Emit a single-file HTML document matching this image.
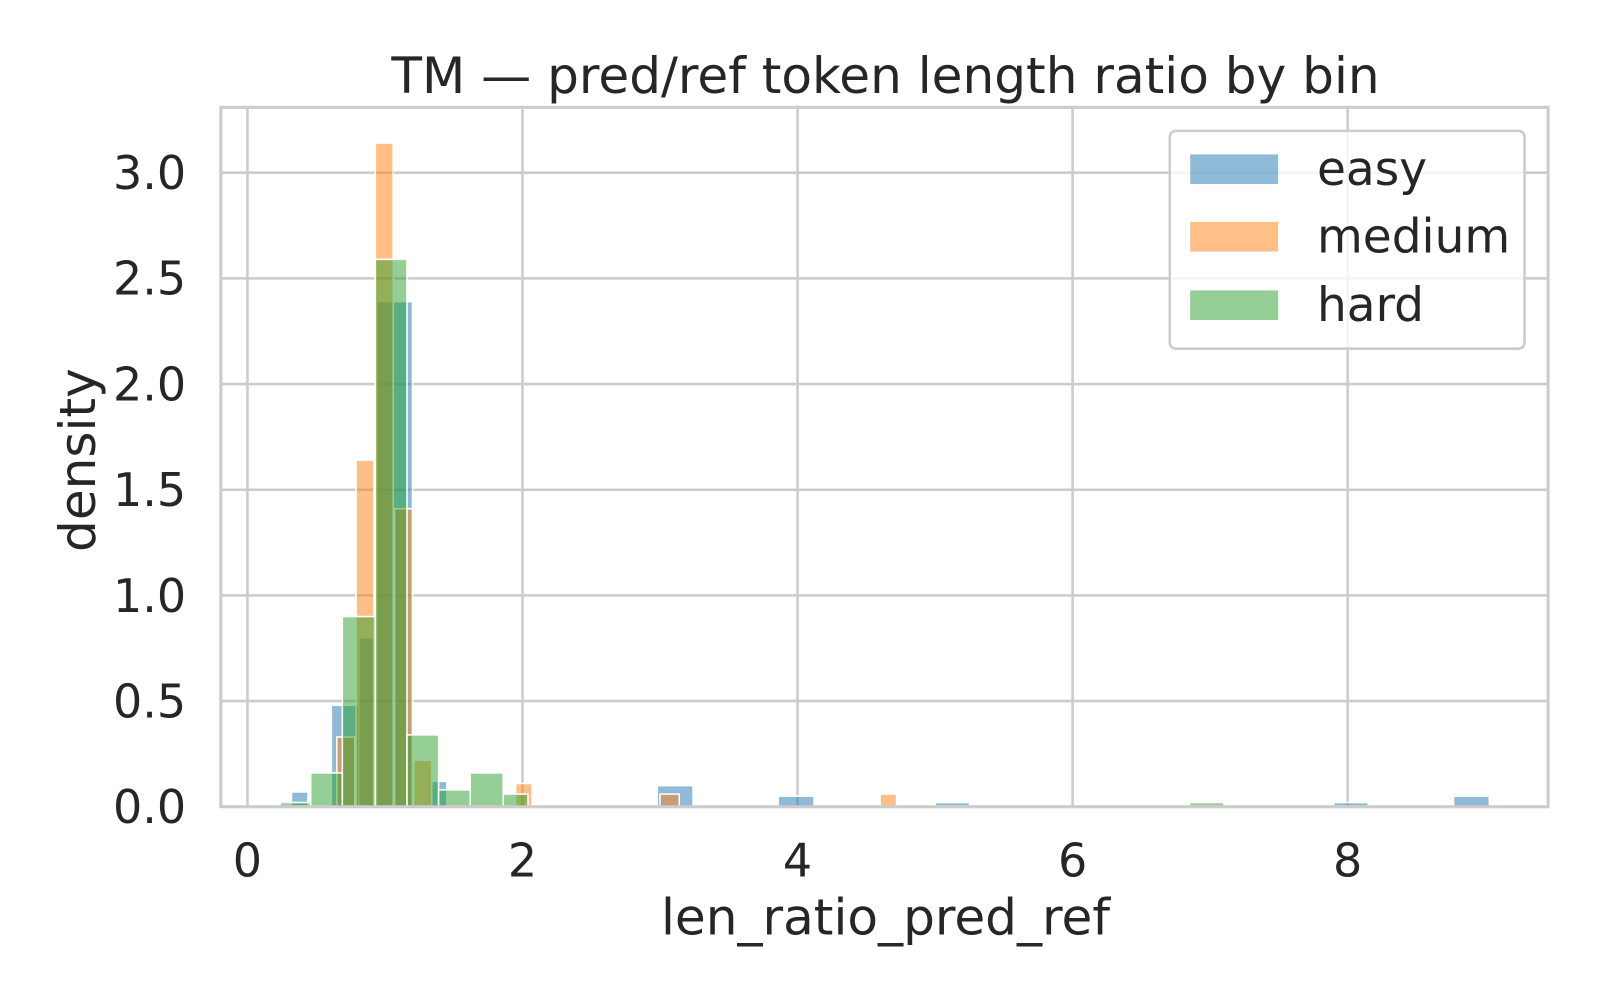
<!DOCTYPE html>
<html><head><meta charset="utf-8"><style>
body{margin:0;background:#fff}
svg{display:block;font-family:"DejaVu Sans","Liberation Sans",sans-serif}
</style></head><body>
<svg id="chart" width="1600" height="1000" viewBox="0 0 1600 1000">
<rect width="1600" height="1000" fill="#fff"/>
<g transform="scale(1.0225)">
<g id="grid"></g>
<g id="bars"></g>
<rect x="216" y="105" width="1298" height="684" fill="none" stroke="#cccccc" stroke-width="3"/>
<g id="ticks" fill="#262626" font-size="45"></g>
<text x="866" y="91" text-anchor="middle" font-size="49" fill="#262626">TM — pred/ref token length ratio by bin</text>
<text x="866" y="914" text-anchor="middle" font-size="49" fill="#262626">len_ratio_pred_ref</text>
<text transform="translate(93,450) rotate(-90)" text-anchor="middle" font-size="49" fill="#262626">density</text>
<g>
<rect x="1144" y="128" width="347" height="213" rx="6" fill="#fff" fill-opacity="0.8" stroke="#cccccc" stroke-width="2.5"/>
<rect x="1164" y="151" width="86" height="29" fill="#1f77b4" fill-opacity="0.5"/>
<text x="1288" y="181" font-size="46" fill="#262626">easy</text>
<rect x="1164" y="217" width="86" height="29" fill="#ff7f0e" fill-opacity="0.5"/>
<text x="1288" y="247" font-size="46" fill="#262626">medium</text>
<rect x="1164" y="284" width="86" height="29" fill="#2ca02c" fill-opacity="0.5"/>
<text x="1288" y="314" font-size="46" fill="#262626">hard</text>
</g>
</g>
</svg>
<script>
const xTicks=[0,2,4,6,8];
const yTicks=[0,0.5,1.0,1.5,2.0,2.5,3.0];
const yTickLabels=["0.0","0.5","1.0","1.5","2.0","2.5","3.0"];
const easyLeft=[0.32,0.61,0.81,0.94,1.34,2.98,3.86,5.0,7.9,8.77];
const easyRight=[0.44,0.81,0.94,1.20,1.45,3.24,4.12,5.25,8.15,9.03];
const easyDensity=[0.07,0.48,0.8,2.39,0.12,0.10,0.05,0.02,0.02,0.05];
const mediumLeft=[0.65,0.79,0.93,1.07,1.21,1.95,3.0,4.6];
const mediumRight=[0.78,0.92,1.06,1.20,1.34,2.07,3.14,4.72];
const mediumDensity=[0.33,1.64,3.14,1.41,0.22,0.11,0.06,0.06];
const hardLeft=[0.24,0.46,0.69,0.93,1.16,1.39,1.62,1.86,6.85];
const hardRight=[0.46,0.69,0.93,1.16,1.39,1.62,1.86,2.04,7.1];
const hardDensity=[0.02,0.16,0.90,2.59,0.34,0.08,0.16,0.06,0.02];
const NS="http://www.w3.org/2000/svg";
const X=v=>242+v*134.5, Y=v=>789-v*206.7;
const grid=document.getElementById('grid'),ticks=document.getElementById('ticks'),bars=document.getElementById('bars');
function mk(tag,attrs,parent){const e=document.createElementNS(NS,tag);for(const k in attrs)e.setAttribute(k,attrs[k]);parent.appendChild(e);return e;}
xTicks.forEach(t=>{
 const l=mk('line',{x1:X(t),x2:X(t),y1:105,y2:789,stroke:'#cccccc','stroke-width':2.5},grid);
 
 
 const tx=mk('text',{x:X(t),y:857,'text-anchor':'middle'},ticks);tx.textContent=t;
 
 
});
yTicks.forEach((t,i)=>{
 const l=mk('line',{x1:216,x2:1514,y1:Y(t),y2:Y(t),stroke:'#cccccc','stroke-width':2.5},grid);
 
 
 const tx=mk('text',{x:182,y:Y(t)+16,'text-anchor':'end'},ticks);tx.textContent=yTickLabels[i];
 
 
});
function series(L,R,D,color,name){
 L.forEach((l,i)=>{
  const r=mk('rect',{x:X(l),y:Y(D[i]),width:X(R[i])-X(l),height:Y(0)-Y(D[i]),fill:color,'fill-opacity':0.5,stroke:'#fff','stroke-width':1.5},bars);
  
  
 });
}
series(easyLeft,easyRight,easyDensity,'#1f77b4','easy');
series(mediumLeft,mediumRight,mediumDensity,'#ff7f0e','medium');
series(hardLeft,hardRight,hardDensity,'#2ca02c','hard');
</script>
</body></html>
